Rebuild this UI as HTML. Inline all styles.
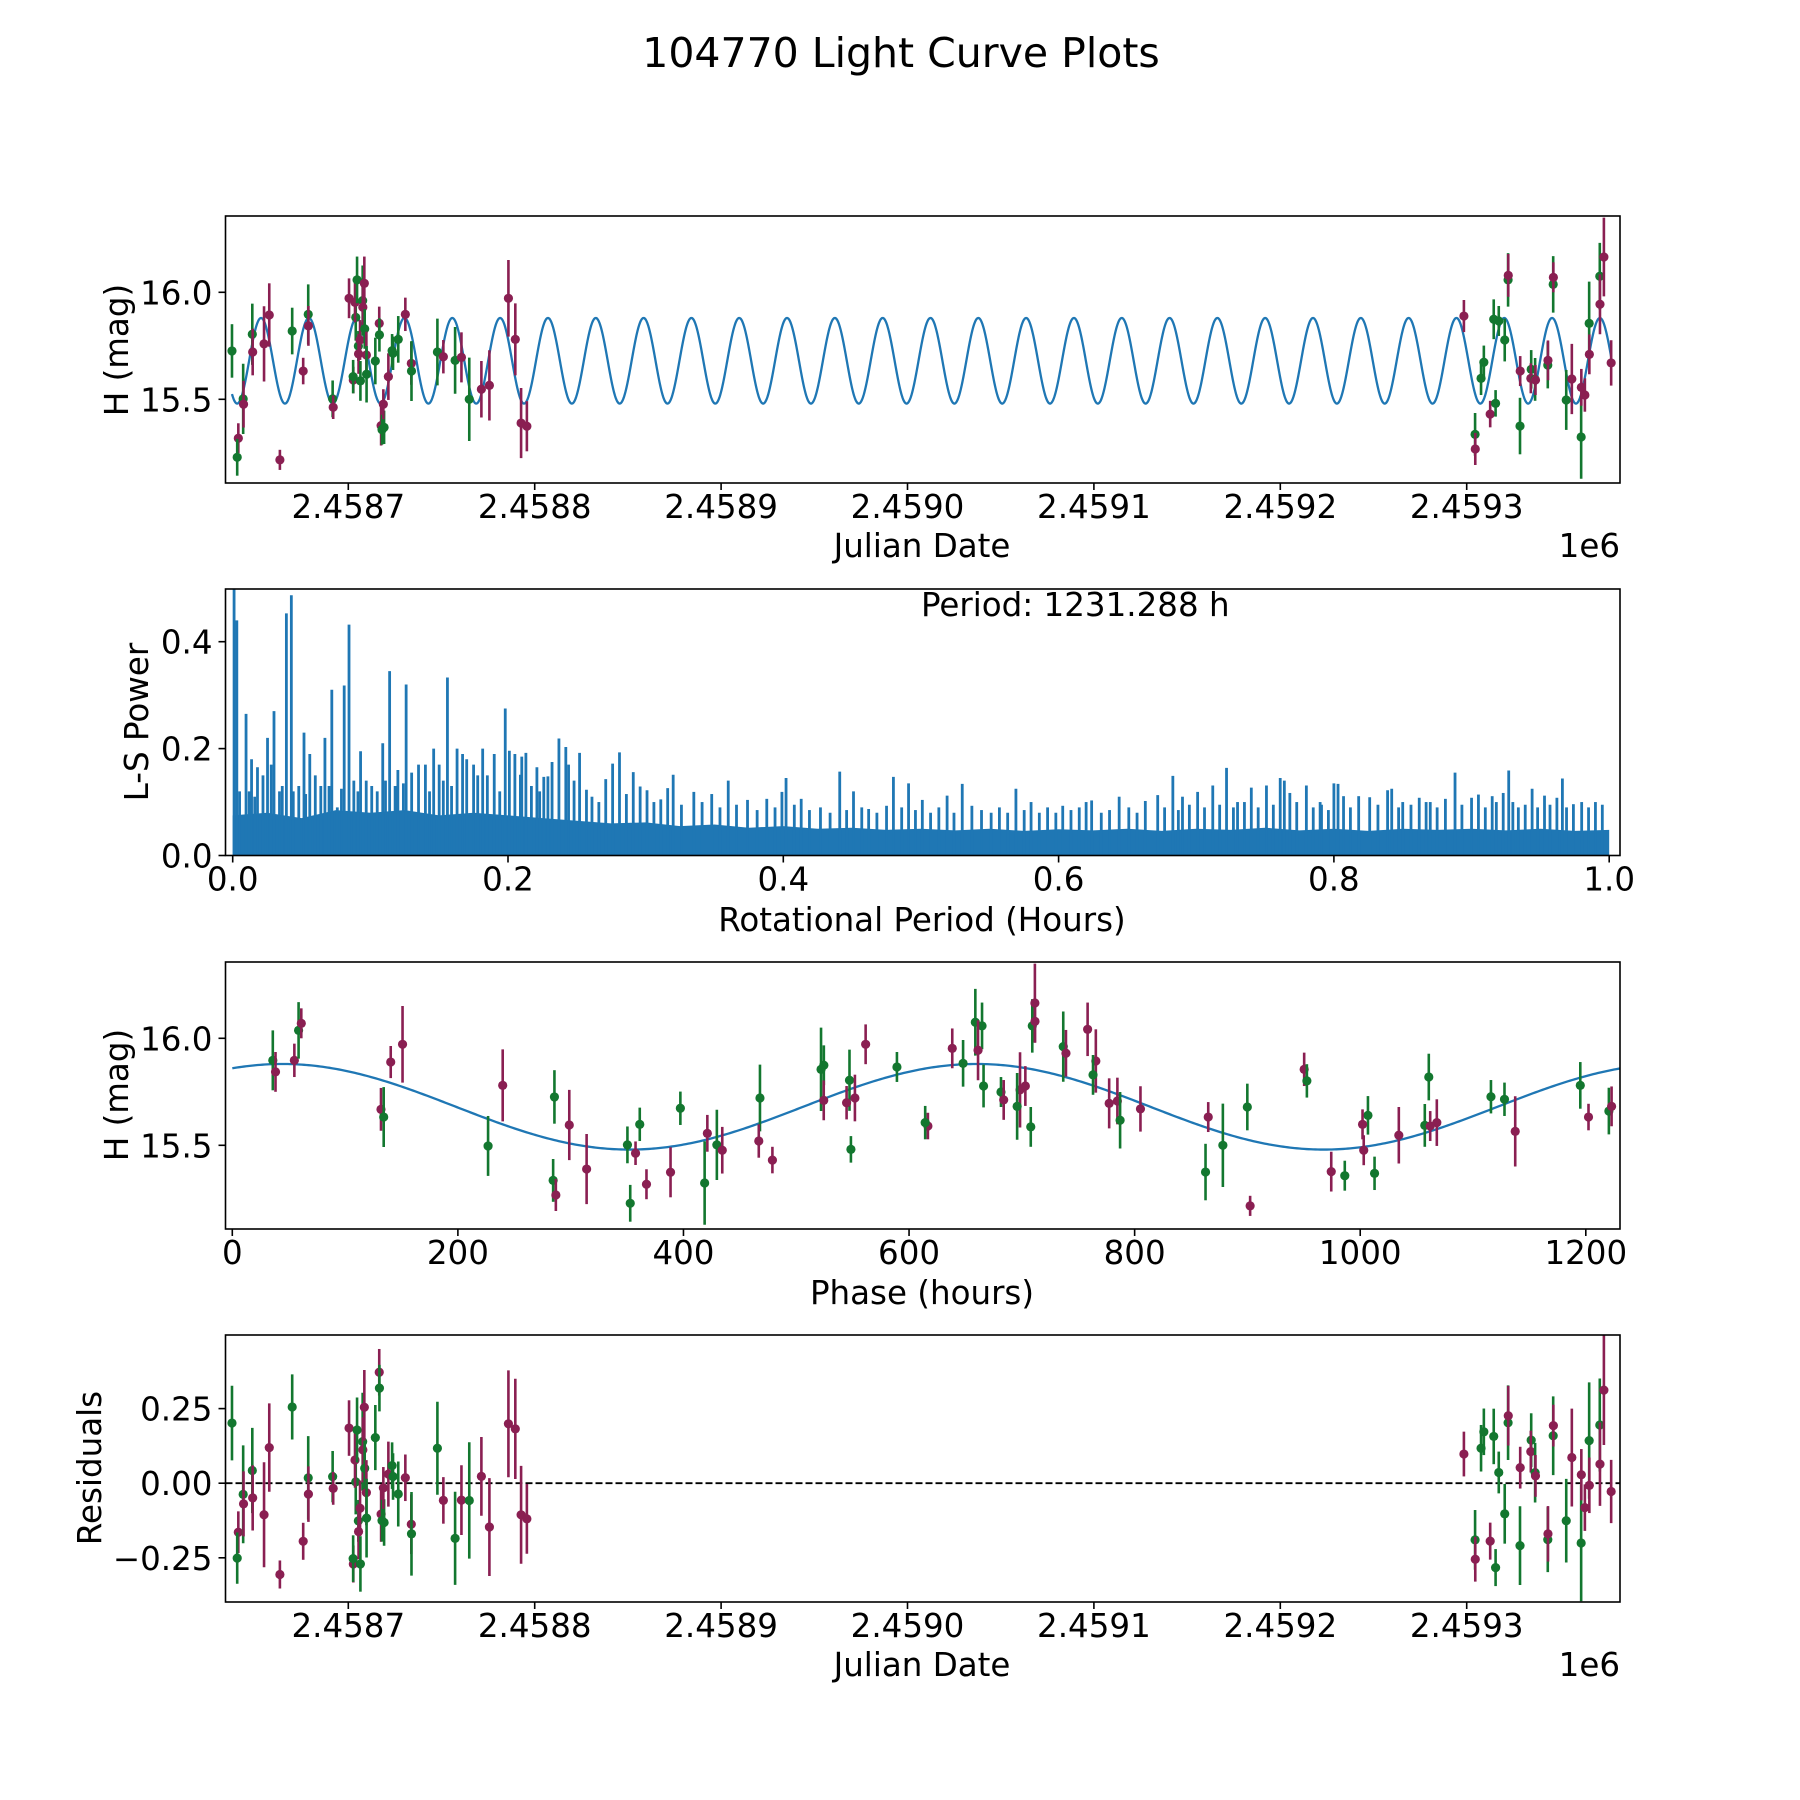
<!DOCTYPE html>
<html><head><meta charset="utf-8"><style>
html,body{margin:0;padding:0;background:#fff;}
svg{display:block;font-family:"DejaVu Sans","Liberation Sans",sans-serif;}
</style></head><body>
<svg id="fig" width="1800" height="1800" viewBox="0 0 1800 1800" xmlns="http://www.w3.org/2000/svg">
<rect width="1800" height="1800" fill="#fff"/>
<text x="901" y="67" font-size="41" text-anchor="middle">104770 Light Curve Plots</text>
</svg>
<script>
// ---------- data ----------
const jd = [2458637.6,2458641.0,2458640.4,2458643.6,2458643.8,2458648.5,2458648.7,2458654.8,2458657.6,2458663.3,
2458669.9,2458675.8,2458678.5,2458678.6,2458691.6,2458691.9,2458700.4,2458702.7,2458702.6,2458704.0,
2458703.6,2458704.7,2458705.4,2458705.5,2458706.3,2458706.5,2458707.7,2458707.8,2458708.6,2458708.8,
2458709.7,2458709.8,2458716.6,2458716.7,2458714.5,2458717.6,2458718.1,2458719.2,2458718.8,2458721.5,
2458723.5,2458724.0,2458726.8,2458730.6,2458733.8,2458733.9,2458747.8,2458751.0,2458757.3,2458760.7,
2458764.9,2458771.4,2458775.7,2458785.9,2458789.6,2458792.7,2458795.8,
2459298.5,2459304.5,2459304.6,2459312.6,2459307.7,2459309.2,2459314.5,2459315.5,2459317.2,2459320.4,
2459322.2,2459322.3,2459328.7,2459328.6,2459334.6,2459334.4,2459336.7,2459336.9,2459343.5,2459343.6,
2459346.4,2459346.5,2459353.4,2459356.4,2459361.4,2459361.5,2459363.4,2459365.7,2459365.8,2459371.4,
2459371.5,2459373.6,2459377.5];
const mag = [15.726,15.318,15.229,15.502,15.477,15.804,15.721,15.759,15.894,15.217,
15.819,15.632,15.897,15.843,15.502,15.463,15.972,15.590,15.606,15.883,
15.953,16.058,15.749,15.712,15.777,15.586,15.961,15.930,16.042,15.829,
15.707,15.617,15.855,15.801,15.679,15.377,15.358,15.369,15.477,15.606,
15.727,15.715,15.780,15.897,15.668,15.632,15.721,15.699,15.682,15.696,
15.500,15.547,15.565,15.972,15.780,15.389,15.374,
15.889,15.336,15.268,15.431,15.598,15.673,15.874,15.481,15.866,15.777,
16.058,16.079,15.632,15.375,15.640,15.598,15.593,15.590,15.660,15.682,
16.037,16.070,15.497,15.595,15.324,15.556,15.520,15.855,15.710,16.075,
15.944,16.165,15.670];
const magErr = [0.125,0.07,0.086,0.164,0.109,0.143,0.109,0.176,0.148,0.047,
0.109,0.062,0.14,0.093,0.086,0.055,0.093,0.062,0.078,0.109,
0.093,0.109,0.07,0.093,0.093,0.093,0.164,0.109,0.125,0.093,
0.109,0.132,0.078,0.078,0.109,0.093,0.07,0.078,0.07,0.109,
0.078,0.078,0.109,0.078,0.1,0.14,0.156,0.078,0.156,0.117,
0.195,0.132,0.164,0.179,0.168,0.164,0.117,
0.075,0.1,0.075,0.062,0.078,0.078,0.093,0.062,0.07,0.1,
0.125,0.1,0.07,0.132,0.09,0.07,0.1,0.07,0.109,0.093,
0.132,0.07,0.14,0.164,0.195,0.086,0.078,0.195,0.093,0.156,
0.14,0.184,0.106];
const band = ["G","M","G","G","M","G","M","M","M","M",
"G","M","G","M","G","M","M","M","G","G",
"M","G","G","M","M","G","G","M","M","G",
"M","G","M","G","G","M","G","G","M","M",
"G","G","G","M","M","G","G","M","G","M",
"G","M","M","M","M","M","M",
"M","G","M","M","G","G","G","G","G","G",
"G","M","M","G","G","M","G","M","G","M",
"G","M","G","M","G","M","M","G","M","G",
"M","M","M"];
// fitted model
const periodHours = [1231.288];
const modelMean = [15.68];
const modelAmp = [0.2];
const modelPeakPhase = [660];
const epochJD = [2458625.7];
// periodogram
const lsBulkPeriod = [0,0.025,0.05,0.075,0.1,0.125,0.15,0.175,0.2,0.225,0.25,0.275,0.3,0.325,0.35,0.375,0.4,0.425,0.45,0.475,0.5,0.525,0.55,0.575,0.6,0.625,0.65,0.675,0.7,0.725,0.75,0.775,0.8,0.825,0.85,0.875,0.9,0.925,0.95,0.975,1.0];
const lsBulkPower = [0.075,0.08,0.07,0.085,0.08,0.085,0.075,0.08,0.075,0.07,0.065,0.06,0.062,0.055,0.058,0.052,0.055,0.05,0.052,0.048,0.05,0.047,0.05,0.046,0.049,0.047,0.05,0.046,0.05,0.048,0.052,0.047,0.05,0.046,0.05,0.048,0.05,0.047,0.05,0.046,0.048];
const lsPeakPeriod = [0.001,0.003,0.0097,0.0137,0.0253,0.030,0.039,0.0426,0.0518,0.056,0.067,0.072,0.081,0.0845,0.0929,0.109,0.114,0.126,0.146,0.156,0.163,0.1816,0.198,0.237,0.242,0.252,0.281,0.291,0.320,0.360,0.402,0.441,0.480,0.491,0.530,0.569,
0.683,0.722,0.761,0.764,0.780,0.800,0.888,0.927,0.966,0.712,0.672,
0.201,0.209,0.213,0.221,0.226,0.229,0.232,0.244,0.248,0.257,0.271,0.276,0.296,0.301,0.316,0.335,0.348,0.374,0.388,0.399,0.413,0.451,0.462,0.475,0.501,0.519,0.537,
0.603,0.624,0.644,0.663,0.701,0.740,0.751,0.768,0.803,0.807,0.818,0.826,0.839,0.842,0.862,0.881,0.900,0.905,0.915,0.923,0.944,0.953,0.962,0.974,
0.005,0.018,0.022,0.028,0.034,0.048,0.060,0.064,0.076,0.088,0.097,0.101,0.105,0.120,0.130,0.135,0.140,0.150,0.167,0.170,0.175,0.185,0.190,0.205,0.210,0.58,0.62,0.69,0.73,0.79,0.85,0.87,0.93,0.99,
0.012,0.016,0.036,0.044,0.053,0.070,0.079,0.091,0.111,0.118,0.124,0.143,0.153,0.159,0.178,0.194,0.217,0.223,0.261,0.266,0.286,0.306,0.311,0.326,0.341,0.354,0.366,0.381,0.394,0.408,0.419,0.427,0.434,0.446,0.457,0.468,0.486,0.496,0.507,0.513,0.524,0.544,0.551,0.557,0.563,0.575,0.586,0.592,0.598,0.609,0.615,0.631,0.637,0.651,0.657,0.677,0.687,0.695,0.706,0.717,0.727,0.735,0.745,0.756,0.773,0.785,0.791,0.796,0.812,0.832,0.847,0.856,0.867,0.875,0.893,0.910,0.918,0.934,0.939,0.948,0.957,0.969,0.980,0.985,0.995];
const lsPeakPower = [0.5,0.44,0.265,0.18,0.22,0.27,0.453,0.487,0.23,0.19,0.22,0.31,0.318,0.432,0.195,0.21,0.345,0.32,0.2,0.333,0.2,0.2,0.275,0.219,0.203,0.192,0.193,0.156,0.151,0.14,0.145,0.157,0.147,0.135,0.134,0.125,
0.149,0.164,0.145,0.14,0.131,0.135,0.155,0.159,0.144,0.131,0.113,
0.196,0.151,0.192,0.165,0.147,0.148,0.175,0.17,0.14,0.123,0.143,0.172,0.129,0.122,0.126,0.119,0.115,0.104,0.106,0.119,0.106,0.12,0.087,0.093,0.104,0.112,0.093,
0.093,0.103,0.11,0.102,0.119,0.127,0.131,0.117,0.134,0.111,0.111,0.109,0.122,0.125,0.108,0.106,0.108,0.114,0.111,0.117,0.125,0.112,0.108,0.096,
0.12,0.165,0.15,0.17,0.12,0.13,0.15,0.13,0.09,0.14,0.14,0.13,0.12,0.16,0.155,0.17,0.17,0.17,0.19,0.18,0.17,0.15,0.19,0.19,0.185,0.1,0.1,0.11,0.1,0.1,0.1,0.1,0.1,0.1,
0.12,0.11,0.13,0.12,0.115,0.13,0.125,0.12,0.14,0.13,0.135,0.12,0.14,0.13,0.15,0.12,0.13,0.12,0.11,0.1,0.115,0.1,0.105,0.095,0.1,0.09,0.095,0.085,0.09,0.095,0.085,0.09,0.08,0.085,0.09,0.08,0.09,0.085,0.08,0.09,0.08,0.085,0.08,0.09,0.08,0.085,0.08,0.09,0.08,0.085,0.09,0.08,0.085,0.09,0.08,0.09,0.085,0.095,0.09,0.095,0.09,0.1,0.09,0.095,0.1,0.09,0.095,0.085,0.09,0.095,0.09,0.095,0.1,0.09,0.095,0.09,0.1,0.09,0.095,0.09,0.095,0.09,0.1,0.09,0.095];
const jdTicks = [2458700,2458800,2458900,2459000,2459100,2459200,2459300];
const jdTickLabels = ["2.4587","2.4588","2.4589","2.4590","2.4591","2.4592","2.4593"];
const magTicks = [16.0,15.5];
const magTickLabels = ["16.0","15.5"];
const lsXTicks = [0,0.2,0.4,0.6,0.8,1.0];
const lsXTickLabels = ["0.0","0.2","0.4","0.6","0.8","1.0"];
const lsYTicks = [0,0.2,0.4];
const lsYTickLabels = ["0.0","0.2","0.4"];
const phaseTicks = [0,200,400,600,800,1000,1200];
const phaseTickLabels = ["0","200","400","600","800","1000","1200"];
const resTicks = [0.25,0,-0.25];
const resTickLabels = ["0.25","0.00","\u22120.25"];

// ---------- helpers ----------
const NS = "http://www.w3.org/2000/svg";
const svg = document.getElementById("fig");
const COL = {G:"#13772f", M:"#8a1f52"};
const BLUE = "#1f77b4";
const FS = 32.5;
function mk(tag, attrs, parent){
  const e = document.createElementNS(NS, tag);
  for (const k in attrs) e.setAttribute(k, attrs[k]);
  (parent||svg).appendChild(e);
  return e;
}
function lin(d0,d1,p0,p1){return v => p0 + (v-d0)*(p1-p0)/(d1-d0);}
function modelAtPhase(ph){
  return modelMean[0] + modelAmp[0]*Math.cos(2*Math.PI*(ph-modelPeakPhase[0])/(periodHours[0]/2));
}
function phaseOf(t){
  let p = ((t-epochJD[0])*24) % periodHours[0];
  if (p<0) p += periodHours[0];
  return p;
}

const L=225.5, R=1620;
const panels = [{top:216,bot:483},{top:589,bot:855.5},{top:962,bot:1229},{top:1335,bot:1602}];

function frame(p, idx, name){
  const g = mk("g",{});
  
  
  const cp = mk("clipPath",{id:"clip"+idx}, g);
  mk("rect",{x:L,y:p.top,width:R-L,height:p.bot-p.top}, cp);
  const plot = mk("g",{"clip-path":"url(#clip"+idx+")"}, g);
  
  
  return {g, plot};
}
function border(g,p){
  const b = mk("rect",{x:L,y:p.top,width:R-L,height:p.bot-p.top,fill:"none",stroke:"#000","stroke-width":1.6}, g);
  
  
}
function xTicks(g,p,vals,labels,sx){
  vals.forEach((v,i)=>{
    const x = sx(v);
    const t = mk("line",{x1:x,x2:x,y1:p.bot,y2:p.bot+7,stroke:"#000","stroke-width":1.6}, g);
    
    
    const tx = mk("text",{x:x,y:p.bot+35,"font-size":FS,"text-anchor":"middle"}, g);
    tx.textContent = labels[i];
    
    
  });
}
function yTicks(g,p,vals,labels,sy){
  vals.forEach((v,i)=>{
    const y = sy(v);
    const t = mk("line",{x1:L-7,x2:L,y1:y,y2:y,stroke:"#000","stroke-width":1.6}, g);
    
    
    const tx = mk("text",{x:L-13,y:y+12,"font-size":FS,"text-anchor":"end"}, g);
    tx.textContent = labels[i];
    
    
  });
}
function label(g,txt,x,y,rot,name){
  const t = mk("text",{x:x,y:y,"font-size":FS,"text-anchor":"middle",transform:rot?("rotate(-90 "+x+" "+y+")"):""}, g);
  t.textContent = txt;
  
  
  return t;
}
function errPoints(plot, xs, ys, errs, sy){
  for (let i=0;i<xs.length;i++){
    const c = COL[band[i]];
    const x = xs[i];
    const e = mk("line",{x1:x,x2:x,y1:sy(ys[i]-errs[i]),y2:sy(ys[i]+errs[i]),stroke:c,"stroke-width":2.6}, plot);
    
    
    const d = mk("circle",{cx:x,cy:sy(ys[i]),r:4.6,fill:c}, plot);
    
    
  }
}

// ---------- panel 1: light curve ----------
const sxJD = lin(2458700, 2458800, 348.3, 534.7);
const syMag = lin(16.0, 15.5, 292.3, 399.3);
{
  const p = panels[0];
  const {g, plot} = frame(p, 0, "light-curve-panel");
  const t0 = Math.min(...jd), t1 = Math.max(...jd);
  let d = "";
  for (let k=0;k<=3000;k++){
    const t = t0 + (t1-t0)*k/3000;
    d += (k?"L":"M") + sxJD(t).toFixed(2) + "," + syMag(modelAtPhase(phaseOf(t))).toFixed(2);
  }
  const m = mk("path",{d:d,fill:"none",stroke:BLUE,"stroke-width":2.3}, plot);
  
  
  errPoints(plot, jd.map(sxJD), mag, magErr, syMag);
  border(g,p);
  xTicks(g,p,jdTicks,jdTickLabels,sxJD);
  yTicks(g,p,magTicks,magTickLabels,syMag);
  label(g,"Julian Date",922,557,false,"x-axis-title");
  const o = mk("text",{x:R,y:557,"font-size":FS,"text-anchor":"end"}, g);
  o.textContent = "1e6";
  
  
  label(g,"H (mag)",128,350,true,"y-axis-title");
}

// ---------- panel 2: periodogram ----------
const sxLS = lin(0, 1, 232.7, 1609.2);
const syLS = lin(0, 0.4, 855.5, 641.7);
{
  const p = panels[1];
  const {g, plot} = frame(p, 1, "periodogram-panel");
  let d = "M" + sxLS(lsBulkPeriod[0]) + "," + syLS(0);
  lsBulkPeriod.forEach((v,i)=>{ d += "L" + sxLS(v).toFixed(2) + "," + syLS(lsBulkPower[i]).toFixed(2); });
  d += "L" + sxLS(lsBulkPeriod[lsBulkPeriod.length-1]) + "," + syLS(0) + "Z";
  const b = mk("path",{d:d,fill:BLUE}, plot);
  
  
  lsPeakPeriod.forEach((v,i)=>{
    const x = sxLS(v);
    const s = mk("line",{x1:x,x2:x,y1:syLS(0),y2:syLS(lsPeakPower[i]),stroke:BLUE,"stroke-width":2.8}, plot);
    
    
  });
  border(g,p);
  xTicks(g,p,lsXTicks,lsXTickLabels,sxLS);
  yTicks(g,p,lsYTicks,lsYTickLabels,syLS);
  label(g,"Rotational Period (Hours)",922,931,false,"x-axis-title");
  label(g,"L-S Power",148,722,true,"y-axis-title");
  const ann = mk("text",{x:sxLS(0.5),y:p.top+27,"font-size":FS,"text-anchor":"start"}, g);
  ann.textContent = "Period: " + periodHours[0].toFixed(3) + " h";
  
  
}

// ---------- panel 3: phase folded ----------
const sxPh = lin(0, 1200, 232.3, 1585.8);
const syMag3 = lin(16.0, 15.5, 1038.3, 1145.3);
{
  const p = panels[2];
  const {g, plot} = frame(p, 2, "phase-folded-panel");
  let d = "";
  for (let k=0;k<=600;k++){
    const ph = periodHours[0]*k/600;
    d += (k?"L":"M") + sxPh(ph).toFixed(2) + "," + syMag3(modelAtPhase(ph)).toFixed(2);
  }
  const m = mk("path",{d:d,fill:"none",stroke:BLUE,"stroke-width":2.3}, plot);
  
  
  errPoints(plot, jd.map(t=>sxPh(phaseOf(t))), mag, magErr, syMag3);
  border(g,p);
  xTicks(g,p,phaseTicks,phaseTickLabels,sxPh);
  yTicks(g,p,magTicks,magTickLabels,syMag3);
  label(g,"Phase (hours)",922,1304,false,"x-axis-title");
  label(g,"H (mag)",128,1095,true,"y-axis-title");
}

// ---------- panel 4: residuals ----------
const syRes = lin(0, 0.25, 1483.2, 1408.6);
{
  const p = panels[3];
  const {g, plot} = frame(p, 3, "residuals-panel");
  const z = mk("line",{x1:L,x2:R,y1:syRes(0),y2:syRes(0),stroke:"#000","stroke-width":1.8,"stroke-dasharray":"7,3"}, plot);
  
  
  const res = jd.map((t,i)=> mag[i] - modelAtPhase(phaseOf(t)));
  errPoints(plot, jd.map(sxJD), res, magErr, syRes);
  border(g,p);
  xTicks(g,p,jdTicks,jdTickLabels,sxJD);
  yTicks(g,p,resTicks,resTickLabels,syRes);
  label(g,"Julian Date",922,1676,false,"x-axis-title");
  const o = mk("text",{x:R,y:1676,"font-size":FS,"text-anchor":"end"}, g);
  o.textContent = "1e6";
  
  
  label(g,"Residuals",101,1468,true,"y-axis-title");
}
</script>
</body></html>
